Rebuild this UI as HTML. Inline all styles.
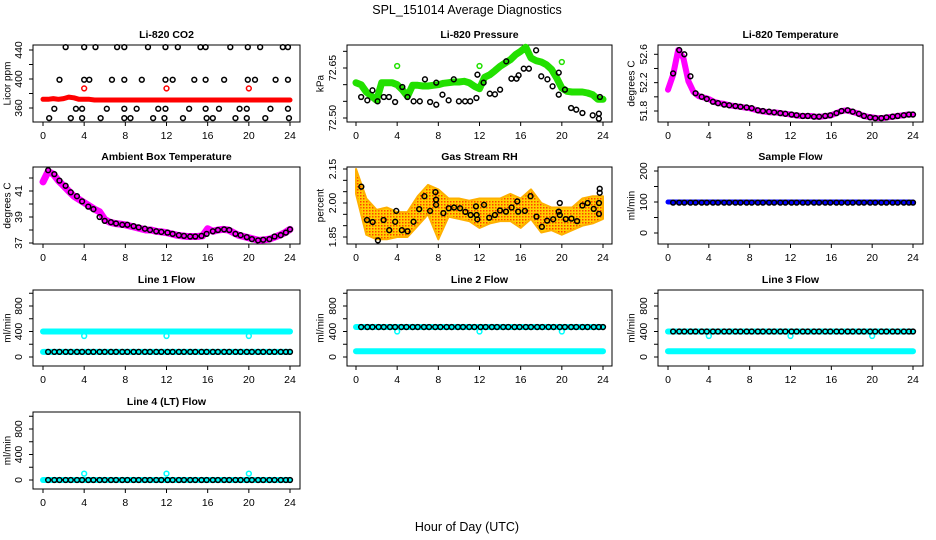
<!DOCTYPE html>
<html><head><meta charset="utf-8"><style>
html,body{margin:0;padding:0;background:#fff;}
svg{display:block;font-family:"Liberation Sans",sans-serif;}
</style></head><body>
<svg id="chart" width="936" height="540" viewBox="0 0 936 540" xmlns="http://www.w3.org/2000/svg">
<defs>
<pattern id="rhpat" width="3" height="3" patternUnits="userSpaceOnUse">
<rect width="3" height="3" fill="#ffd000"/>
<rect x="0" y="0" width="1.5" height="1.5" fill="#ff4000"/>
</pattern>
</defs>
<rect x="0" y="0" width="936" height="540" fill="#fff"/>
<text x="467" y="14" text-anchor="middle" font-size="12.5">SPL_151014  Average Diagnostics</text>
<text x="467" y="531" text-anchor="middle" font-size="12.5">Hour of Day (UTC)</text>
</svg>
<script>
const halfHours = [0,0.5,1,1.5,2,2.5,3,3.5,4,4.5,5,5.5,6,6.5,7,7.5,8,8.5,9,9.5,10,10.5,11,11.5,12,12.5,13,13.5,14,14.5,15,15.5,16,16.5,17,17.5,18,18.5,19,19.5,20,20.5,21,21.5,22,22.5,23,23.5,24];
const hourTicks = [0,4,8,12,16,20,24];
const hours = [0,1,2,3,4,5,6,7,8,9,10,11,12,13,14,15,16,17,18,19,20,21,22,23,24];
const outlierHours = [4,12,20];
const blackHours = [0.5,1.1,1.6,2.2,2.7,3.3,3.8,4.4,4.9,5.5,6.0,6.6,7.1,7.7,8.2,8.8,9.3,9.9,10.4,11.0,11.5,12.1,12.6,13.2,13.7,14.3,14.8,15.4,15.9,16.5,17.0,17.6,18.1,18.7,19.2,19.8,20.3,20.9,21.4,22.0,22.5,23.1,23.6,24.0];

const co2Red = [372,372,373,372,373,375,374,372,372,372,371,371,371,371,371,371,371,371,371,371,371,371,371,371,371,371,371,371,371,371,371,371,371,371,371,371,371,371,371,371,371,371,371,371,371,371,371,371,371];
const co2RedOutliers = [387,387,387];
const co2BlackHours = [2.2,4.0,5.1,7.2,7.9,10.2,11.9,13.1,15.3,15.8,18.2,19.9,21.1,23.3,23.8, 1.6,4.0,4.5,6.7,7.9,9.6,11.9,12.6,14.7,15.8,17.6,19.9,20.6,22.6,23.8, 1.1,3.2,3.8,6.2,7.9,9.1,11.2,11.9,14.2,15.8,17.1,19.1,19.8,22.1,23.8, 0.6,2.7,3.8,5.6,7.9,8.5,10.7,11.8,13.6,15.9,16.5,18.7,19.8,21.6,23.9];
const co2BlackValues = [444,444,444,444,444,444,444,444,444,444,444,444,444,444,444, 399,399,399,399,399,399,399,399,399,399,399,399,399,399,399, 359,359,359,359,359,359,359,359,359,359,359,359,359,359,359, 346,346,346,346,346,346,346,346,346,346,346,346,346,346,346];

const pressGreen = [72.606,72.600,72.578,72.566,72.553,72.606,72.606,72.606,72.600,72.585,72.565,72.598,72.598,72.596,72.596,72.598,72.600,72.604,72.606,72.608,72.608,72.610,72.606,72.595,72.588,72.622,72.630,72.642,72.655,72.665,72.675,72.690,72.700,72.712,72.680,72.672,72.668,72.660,72.646,72.620,72.590,72.580,72.578,72.578,72.578,72.575,72.570,72.556,72.556];
const pressGreenOutliers = [72.656,72.656,72.668];
const pressBlackHours = [0.5,1.1,1.6,2.1,2.7,3.2,3.8,4.5,5.0,5.6,6.2,6.7,7.2,7.8,7.8,8.4,9.0,9.5,10.0,10.6,11.1,11.7,11.8,12.4,13.0,13.5,14.0,14.6,15.1,15.6,15.8,16.3,16.8,17.5,18.0,18.6,19.1,19.7,19.7,20.3,20.9,21.4,22.0,23.0,23.6,23.6,23.7];
const pressBlackValues = [72.563,72.553,72.583,72.550,72.563,72.563,72.548,72.593,72.563,72.550,72.550,72.616,72.548,72.540,72.606,72.570,72.553,72.616,72.550,72.550,72.550,72.560,72.630,72.606,72.573,72.571,72.585,72.670,72.618,72.618,72.628,72.648,72.648,72.703,72.625,72.616,72.595,72.570,72.636,72.585,72.530,72.525,72.515,72.508,72.513,72.498,72.563];

const tempMagenta = [52.10,52.31,52.66,52.55,52.22,52.07,52.01,51.99,51.97,51.93,51.91,51.90,51.88,51.87,51.86,51.85,51.84,51.82,51.80,51.79,51.78,51.78,51.77,51.76,51.75,51.74,51.73,51.73,51.73,51.72,51.72,51.73,51.74,51.77,51.80,51.81,51.79,51.77,51.74,51.72,51.71,51.70,51.70,51.71,51.72,51.73,51.74,51.75,51.75];
const tempBlack = [52.33,52.66,52.60,52.29,52.05,52.00,51.97,51.93,51.91,51.89,51.88,51.87,51.86,51.85,51.84,51.81,51.80,51.79,51.78,51.77,51.76,51.75,51.74,51.73,51.73,51.72,51.72,51.73,51.74,51.77,51.80,51.81,51.79,51.76,51.73,51.71,51.70,51.70,51.71,51.72,51.73,51.74,51.75,51.75];

const ambMagenta = [41.7,42.5,42.3,41.8,41.4,41.0,40.6,40.35,40.1,39.85,39.6,39.4,38.8,38.6,38.5,38.45,38.4,38.3,38.2,38.1,38.0,38.0,37.9,37.85,37.8,37.7,37.6,37.55,37.5,37.5,37.5,37.55,38.1,37.9,38.0,38.05,38.0,37.8,37.6,37.5,37.4,37.3,37.2,37.25,37.3,37.45,37.6,37.8,38.05];
const ambBlack = [42.6,42.3,41.8,41.4,40.9,40.6,40.2,39.8,39.6,39.0,38.7,38.6,38.5,38.4,38.4,38.3,38.2,38.1,38.0,37.9,37.85,37.8,37.7,37.6,37.55,37.5,37.5,37.55,37.7,37.9,38.0,38.05,38.0,37.7,37.6,37.45,37.3,37.2,37.25,37.3,37.5,37.6,37.8,38.05];

const rhUpper = [2.15,2.02,1.97,1.98,1.96,1.96,2.03,2.08,2.06,2.02,2.02,2.01,2.02,2.02,2.02,2.04,2.02,2.06,2.00,1.98,1.98,1.98,2.02,2.03,2.03];
const rhLower = [2.04,1.86,1.84,1.84,1.85,1.85,1.90,1.95,1.84,1.94,1.93,1.92,1.89,1.91,1.92,1.92,1.89,1.93,1.87,1.88,1.86,1.88,1.90,1.91,1.93];
const rhBlackHours = [0.52,1.07,1.62,2.13,2.68,3.23,3.81,3.91,4.46,5.01,5.59,6.14,6.65,7.20,7.72,7.78,7.78,8.49,9.01,9.53,10.11,10.63,11.14,11.66,11.72,11.79,12.44,12.95,13.50,13.99,14.57,15.12,15.67,15.76,16.41,16.96,17.54,18.06,18.57,19.16,19.70,19.80,19.80,20.38,20.93,21.48,22.00,22.51,23.10,23.61,23.68,23.68,23.61];
const rhBlackValues = [2.072,1.925,1.916,1.835,1.925,1.880,1.917,1.965,1.880,1.875,1.917,1.973,2.030,1.965,2.048,2.015,1.992,1.955,1.977,1.980,1.977,1.961,1.947,1.985,1.947,1.928,1.992,1.935,1.947,1.967,1.962,1.980,2.007,1.962,1.965,2.030,1.940,1.895,1.922,1.928,1.962,2.000,1.947,1.929,1.931,1.920,1.989,2.000,1.974,2.000,2.045,2.063,1.952];

const sampleBlue = [100,100,100,100,100,100,100,100,100,100,100,100,100,100,100,100,100,100,100,100,100,100,100,100,100];
const sampleBlack = [98,98,98,98,98,98,98,98,98,98,98,98,98,98,98,98,98,98,98,98,98,98,98,98,98,98,98,98,98,98,98,98,98,98,98,98,98,98,98,98,98,98,98,98];

const line1CyanHigh = [400,400,400,400,400,400,400,400,400,400,400,400,400,400,400,400,400,400,400,400,400,400,400,400,400];
const line1CyanLow = [80,80,80,80,80,80,80,80,80,80,80,80,80,80,80,80,80,80,80,80,80,80,80,80,80];
const line1Outliers = [330,330,330];
const line1Black = [80,80,80,80,80,80,80,80,80,80,80,80,80,80,80,80,80,80,80,80,80,80,80,80,80,80,80,80,80,80,80,80,80,80,80,80,80,80,80,80,80,80,80,80];

const line2CyanHigh = [470,470,470,470,470,470,470,470,470,470,470,470,470,470,470,470,470,470,470,470,470,470,470,470,470];
const line2CyanLow = [90,90,90,90,90,90,90,90,90,90,90,90,90,90,90,90,90,90,90,90,90,90,90,90,90];
const line2Outliers = [400,400,400];
const line2Black = [470,470,470,470,470,470,470,470,470,470,470,470,470,470,470,470,470,470,470,470,470,470,470,470,470,470,470,470,470,470,470,470,470,470,470,470,470,470,470,470,470,470,470,470];

const line3CyanHigh = [400,400,400,400,400,400,400,400,400,400,400,400,400,400,400,400,400,400,400,400,400,400,400,400,400];
const line3CyanLow = [90,90,90,90,90,90,90,90,90,90,90,90,90,90,90,90,90,90,90,90,90,90,90,90,90];
const line3Outliers = [330,330,330];
const line3Black = [400,400,400,400,400,400,400,400,400,400,400,400,400,400,400,400,400,400,400,400,400,400,400,400,400,400,400,400,400,400,400,400,400,400,400,400,400,400,400,400,400,400,400,400];

const line4Cyan = [0,0,0,0,0,0,0,0,0,0,0,0,0,0,0,0,0,0,0,0,0,0,0,0,0];
const line4Outliers = [100,100,100];
const line4Black = [0,0,0,0,0,0,0,0,0,0,0,0,0,0,0,0,0,0,0,0,0,0,0,0,0,0,0,0,0,0,0,0,0,0,0,0,0,0,0,0,0,0,0,0];

const svg = document.getElementById('chart');
const NS = 'http://www.w3.org/2000/svg';
function mk(tag, attrs, parent){
  const e = document.createElementNS(NS, tag);
  for (const k in attrs) e.setAttribute(k, attrs[k]);
  (parent || svg).appendChild(e);
  return e;
}
const cols = [
  {L:33,R:300,x0:43,x24:290,tl:19,yl:8},
  {L:347,R:612,x0:356,x24:603,tl:333,yl:321},
  {L:658,R:923,x0:668,x24:913,tl:644,yl:632}
];
const rows = [{T:45,B:122},{T:167,B:244},{T:290,B:366},{T:412,B:489}];

function panel(name, ci, ri, title, ylab, v0, p0, v1, p1, ticks, labels){
  const c = cols[ci], r = rows[ri];
  const g = mk('g', {});
  
  
  const X = h => c.x0 + h / 24 * (c.x24 - c.x0);
  const Y = v => p0 + (v - v0) * (p1 - p0) / (v1 - v0);
  const box = mk('rect', {x:c.L, y:r.T, width:c.R - c.L, height:r.B - r.T, fill:'none', stroke:'#000', 'stroke-width':1}, g);
  
  
  const t = mk('text', {x:(c.L + c.R) / 2, y:r.T - 7, 'text-anchor':'middle', 'font-size':10.5, 'font-weight':'bold'}, g);
  t.textContent = title;
  
  
  const yt = mk('text', {x:c.yl, y:(r.T + r.B) / 2, 'text-anchor':'middle', 'font-size':10, transform:'rotate(-90 ' + c.yl + ' ' + (r.T + r.B) / 2 + ')', 'dominant-baseline':'middle'}, g);
  yt.textContent = ylab;
  
  
  hourTicks.forEach(h => {
    mk('line', {x1:X(h), x2:X(h), y1:r.B, y2:r.B + 4, stroke:'#000'}, g);
    const tx = mk('text', {x:X(h), y:r.B + 17, 'text-anchor':'middle', 'font-size':10.5}, g);
    tx.textContent = h;
    
    
  });
  ticks.forEach(v => {
    mk('line', {x1:c.L - 4, x2:c.L, y1:Y(v), y2:Y(v), stroke:'#000'}, g);
  });
  labels.forEach(s => {
    const v = parseFloat(s);
    const ty = mk('text', {x:c.tl, y:Y(v), 'text-anchor':'middle', 'font-size':10.5, 'dominant-baseline':'middle', transform:'rotate(-90 ' + c.tl + ' ' + Y(v) + ')'}, g);
    ty.textContent = s;
    
    
  });
  return {g, X, Y};
}
function band(p, xs, vs, color, w, nm){
  const pts = xs.map((h, i) => p.X(h).toFixed(1) + ',' + p.Y(vs[i]).toFixed(1)).join(' ');
  const pl = mk('polyline', {points:pts, fill:'none', stroke:color, 'stroke-width':w, 'stroke-linejoin':'round', 'stroke-linecap':'round'}, p.g);
  
  
}
function circles(p, xs, vs, color, nm, r){
  xs.forEach((h, i) => {
    const c = mk('circle', {cx:p.X(h), cy:p.Y(vs[i]), r:r || 2.4, fill:'none', stroke:color, 'stroke-width':1.5}, p.g);
    
    
  });
}

let p = panel('co2', 0, 0, 'Li-820 CO2', 'Licor ppm', 360, 108, 440, 50, [360,380,400,420,440], ['360','400','440']);
band(p, halfHours, co2Red, '#ff0000', 5, 'co2-red-series');
circles(p, outlierHours, co2RedOutliers, '#ff0000', 'co2-red-outlier');
circles(p, co2BlackHours, co2BlackValues, '#000', 'co2-black-point');

p = panel('pressure', 1, 0, 'Li-820 Pressure', 'kPa', 72.50, 118, 72.65, 68, [72.50,72.55,72.60,72.65,72.70], ['72.50','72.65']);
band(p, halfHours, pressGreen, '#22e000', 7, 'pressure-green-series');
circles(p, outlierHours, pressGreenOutliers, '#22e000', 'pressure-green-outlier');
circles(p, pressBlackHours, pressBlackValues, '#000', 'pressure-black-point');

p = panel('li820-temp', 2, 0, 'Li-820 Temperature', 'degrees C', 51.8, 111, 52.6, 54.3, [51.8,52.0,52.2,52.4,52.6], ['51.8','52.2','52.6']);
band(p, halfHours, tempMagenta, '#ff00ff', 6, 'li820-temp-magenta-series');
circles(p, blackHours, tempBlack, '#000', 'li820-temp-black-point');

p = panel('ambient-temp', 0, 1, 'Ambient Box Temperature', 'degrees C', 37, 243, 41, 191, [37,38,39,40,41,42], ['37','39','41']);
band(p, halfHours, ambMagenta, '#ff00ff', 7, 'ambient-magenta-series');
circles(p, blackHours, ambBlack, '#000', 'ambient-black-point');

p = panel('rh', 1, 1, 'Gas Stream RH', 'percent', 1.85, 237, 2.15, 169, [1.85,1.90,1.95,2.00,2.05,2.10,2.15], ['1.85','2.00','2.15']);
{
  const up = hours.map((h, i) => p.X(h).toFixed(1) + ',' + p.Y(rhUpper[i]).toFixed(1));
  const lo = hours.map((h, i) => p.X(h).toFixed(1) + ',' + p.Y(rhLower[i]).toFixed(1)).reverse();
  const poly = mk('polygon', {points:up.concat(lo).join(' '), fill:'url(#rhpat)', stroke:'#ffb000', 'stroke-width':2, 'stroke-linejoin':'round'}, p.g);
  
  
}
circles(p, rhBlackHours, rhBlackValues, '#000', 'rh-black-point');

p = panel('sample-flow', 2, 1, 'Sample Flow', 'ml/min', 0, 233, 200, 171, [0,50,100,150,200], ['0','100','200']);
band(p, hours, sampleBlue, '#0000ff', 5, 'sample-flow-blue-series');
circles(p, blackHours, sampleBlack, '#000', 'sample-flow-black-point');

const flowTicks = [0,200,400,600,800,1000];
const flowLabels = ['0','400','800'];
p = panel('line1-flow', 0, 2, 'Line 1 Flow', 'ml/min', 0, 357, 800, 306, flowTicks, flowLabels);
band(p, hours, line1CyanHigh, '#00ffff', 6, 'line1-cyan-high');
band(p, hours, line1CyanLow, '#00ffff', 6, 'line1-cyan-low');
circles(p, outlierHours, line1Outliers, '#00ffff', 'line1-cyan-outlier');
circles(p, blackHours, line1Black, '#000', 'line1-black-point');

p = panel('line2-flow', 1, 2, 'Line 2 Flow', 'ml/min', 0, 357, 800, 306, flowTicks, flowLabels);
band(p, hours, line2CyanHigh, '#00ffff', 6, 'line2-cyan-high');
band(p, hours, line2CyanLow, '#00ffff', 6, 'line2-cyan-low');
circles(p, outlierHours, line2Outliers, '#00ffff', 'line2-cyan-outlier');
circles(p, blackHours, line2Black, '#000', 'line2-black-point');

p = panel('line3-flow', 2, 2, 'Line 3 Flow', 'ml/min', 0, 357, 800, 306, flowTicks, flowLabels);
band(p, hours, line3CyanHigh, '#00ffff', 6, 'line3-cyan-high');
band(p, hours, line3CyanLow, '#00ffff', 6, 'line3-cyan-low');
circles(p, outlierHours, line3Outliers, '#00ffff', 'line3-cyan-outlier');
circles(p, blackHours, line3Black, '#000', 'line3-black-point');

p = panel('line4-flow', 0, 3, 'Line 4 (LT) Flow', 'ml/min', 0, 480, 800, 429, flowTicks, flowLabels);
band(p, hours, line4Cyan, '#00ffff', 6, 'line4-cyan-series');
circles(p, outlierHours, line4Outliers, '#00ffff', 'line4-cyan-outlier');
circles(p, blackHours, line4Black, '#000', 'line4-black-point');
</script>
</body></html>
